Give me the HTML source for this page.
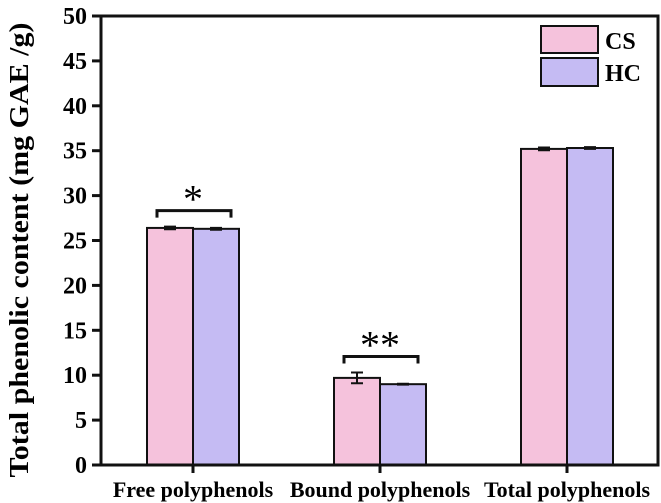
<!DOCTYPE html>
<html><head><meta charset="utf-8"><style>
html,body{margin:0;padding:0;background:#fff;}
svg{display:block;font-family:"Liberation Serif",serif;font-weight:bold;}
</style></head><body>
<svg id="chart" width="661" height="503">
<text transform="translate(28,250) rotate(-90)" text-anchor="middle" font-size="27" textLength="455" lengthAdjust="spacingAndGlyphs">Total phenolic content (mg GAE /g)</text>
<g id="plot"></g>
<g>
<rect x="541" y="26" width="57" height="27" fill="#f5c2dc" stroke="#111" stroke-width="2"/>
<text x="605" y="49" font-size="24">CS</text>
<rect x="541" y="58" width="57" height="28" fill="#c5bbf3" stroke="#111" stroke-width="2"/>
<text x="605" y="81" font-size="24">HC</text>
</g>
</svg>
<script>
const categories=["Free polyphenols","Bound polyphenols","Total polyphenols"];
const csValues=[26.4,9.7,35.2];
const hcValues=[26.3,9.0,35.3];
const csErr=[0.15,0.6,0.15];
const hcErr=[0.1,0.05,0.1];
const yTicks=[0,5,10,15,20,25,30,35,40,45,50];
const sigLabels=["*","**",""];
const NS="http://www.w3.org/2000/svg";
const L=101,R=658,T=16,B=465,ymax=50;
const y=v=>B-(v/ymax)*(B-T);
const xc=i=>193+i*187;
const bw=46;
const g=document.getElementById('plot');
function mk(tag,attrs){const e=document.createElementNS(NS,tag);for(const k in attrs)e.setAttribute(k,attrs[k]);g.appendChild(e);return e;}
const series=[[csValues,csErr,"#f5c2dc",-1,"cs"],[hcValues,hcErr,"#c5bbf3",0,"hc"]];
categories.forEach((c,i)=>{
 series.forEach(([vals,errs,col,off,nm])=>{
  const x0=xc(i)+off*bw;
  const r=mk('rect',{x:x0,y:y(vals[i]),width:bw,height:B-y(vals[i]),fill:col,stroke:'#111','stroke-width':2});
  
  
  const cx=x0+bw/2;
  const e=mk('path',{d:`M${cx} ${y(vals[i]+errs[i])}V${y(vals[i]-errs[i])}M${cx-6} ${y(vals[i]+errs[i])}H${cx+6}M${cx-6} ${y(vals[i]-errs[i])}H${cx+6}`,stroke:'#111','stroke-width':2,fill:'none'});
  
  
 });
 const t=mk('line',{x1:xc(i),x2:xc(i),y1:B,y2:B+8,stroke:'#111','stroke-width':3});
 
 
 const lb=mk('text',{x:xc(i),y:B+32,'text-anchor':'middle','font-size':22});
 lb.textContent=c;
 
 
 if(sigLabels[i]){
  const top=Math.max(csValues[i]+csErr[i],hcValues[i]+hcErr[i]);
  const by=y(top)-16;
  const br=mk('path',{d:`M${xc(i)-36} ${by+7}V${by}H${xc(i)+38}V${by+7}`,stroke:'#111','stroke-width':3,fill:'none'});
  
  
  const st=mk('text',{x:xc(i),y:by+2,'text-anchor':'middle','font-size':40,'font-weight':'normal'});
  st.textContent=sigLabels[i];
  
  
 }
});
yTicks.forEach(v=>{
 const t=mk('line',{x1:L-9,x2:L,y1:y(v),y2:y(v),stroke:'#111','stroke-width':3});
 
 
 const lb=mk('text',{x:L-14,y:y(v)+8,'text-anchor':'end','font-size':24});
 lb.textContent=v;
 
 
});
const ax=mk('rect',{x:L,y:T,width:R-L,height:B-T,fill:'none',stroke:'#111','stroke-width':3});


</script>
</body></html>
